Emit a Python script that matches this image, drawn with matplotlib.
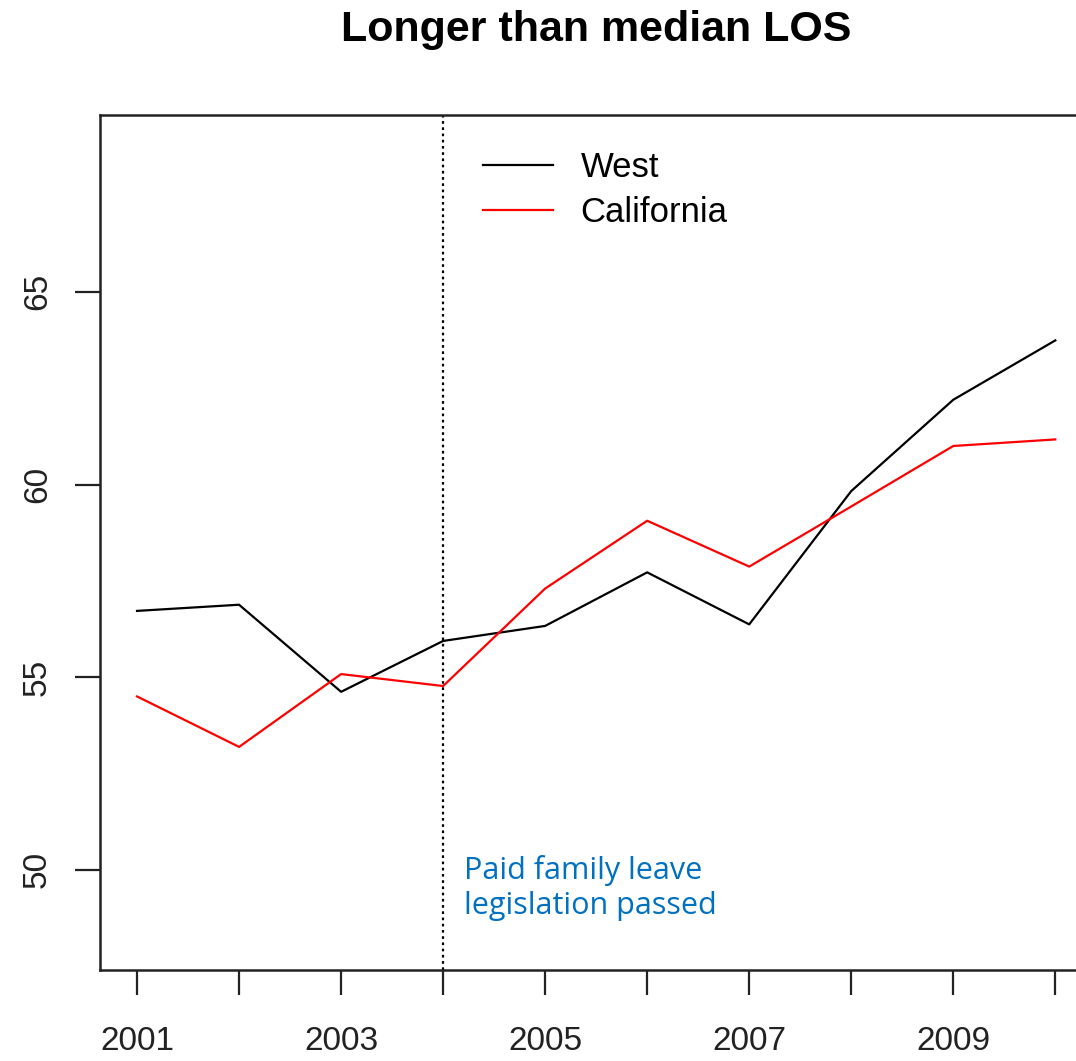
import matplotlib
matplotlib.use("Agg")
import matplotlib.pyplot as plt

years = [2001, 2002, 2003, 2004, 2005, 2006, 2007, 2008, 2009, 2010]
west = [56.72, 56.88, 54.62, 55.94, 56.33, 57.72, 56.37, 59.83, 62.2, 63.74]
california = [54.5, 53.19, 55.08, 54.77, 57.3, 59.06, 57.87, 59.43, 61.0, 61.17]
xtick_labels = ["2001", "", "2003", "", "2005", "", "2007", "", "2009", ""]
ytick_vals = [50, 55, 60, 65]
policy_year = 2004

plt.rcParams['font.family'] = ['Liberation Sans', 'DejaVu Sans']

W, H = 1076, 1061
fig = plt.figure(figsize=(W / 100, H / 100), dpi=100)
left, right, top, bottom = 100, 1090, 115, 970
ax = fig.add_axes([left / W, (H - bottom) / H, (right - left) / W, (bottom - top) / H])

ax.plot(years, west, color='black', lw=1.6, label='West')
ax.plot(years, california, color='red', lw=1.6, label='California')
ax.axvline(policy_year, color='black', lw=1.6, ls=(0, (1.2, 1.6)))

ax.set_xlim(2000.637, 2010.34)
ax.set_ylim(47.40, 69.59)

ax.set_xticks(years)
ax.set_xticklabels(xtick_labels)
ax.set_yticks(ytick_vals)
ax.set_yticklabels([str(v) for v in ytick_vals], rotation=90, va='center')
ax.tick_params(axis='both', direction='out', length=18, width=1.6, labelsize=24, colors='#222222')
ax.tick_params(axis='x', pad=22)
ax.tick_params(axis='y', pad=16)
for s in ax.spines.values():
    s.set_linewidth(1.8)
    s.set_color('#222222')

leg = ax.legend(loc='upper left', bbox_to_anchor=((452 - left) / (right - left), 1 - (120 - top) / (bottom - top)),
                frameon=False, fontsize=25, handlelength=2.0, handletextpad=0.8, labelspacing=0.35)

ax.text(policy_year + 0.2, 50.38, "Paid family leave\nlegislation passed", color='#0070C0',
        fontsize=22, family=['Open Sans', 'DejaVu Sans'], va='top', ha='left', linespacing=1.2)

fig.text(596 / W, 1 - 30 / H, "Longer than median LOS", ha='center', va='center',
         fontsize=31, fontweight='bold')

fig.savefig('out.png', dpi=100)
